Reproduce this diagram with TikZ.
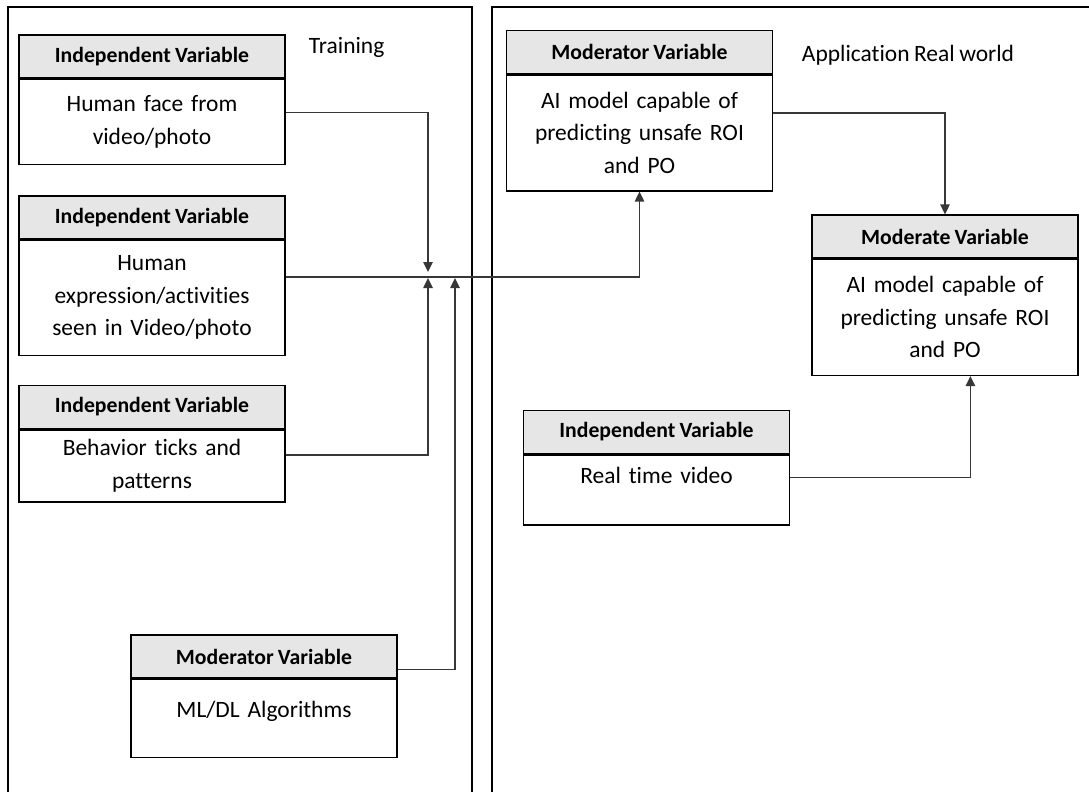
\documentclass[tikz,border=0pt]{standalone}
\usepackage{fontspec}
\setmainfont{Carlito}[Ligatures=NoCommon,WordSpace=0.85]
\usetikzlibrary{arrows.meta,positioning,calc}

\definecolor{headgray}{RGB}{231,230,230}
\definecolor{linkgray}{RGB}{55,55,55}

\tikzset{every picture/.style={line width=0.75pt}}
\tikzset{
	varhead/.style={draw, line width=1.1pt, fill=headgray, minimum width=199.5pt, minimum height=32pt, inner sep=0pt, font=\fontsize{16.3}{20}\selectfont\bfseries},
	varbody/.style={draw, line width=1.1pt, minimum width=199.5pt, text width=190pt, align=center, inner sep=4pt, font=\fontsize{17.6}{24.4}\selectfont, minimum height=#1},
	link/.style={draw=linkgray, line width=1.1pt, -{Triangle[length=7.5pt,width=7pt]}},
	panel/.style={line width=1.3pt},
	caption/.style={font=\fontsize{17.6}{20}\selectfont, anchor=west}}

\begin{document}
\begin{tikzpicture}[x=0.75pt,y=0.75pt,yscale=-1,xscale=1]
	\useasboundingbox (0,0) rectangle (1089,792);

	%Shape: Panels
	\draw[panel] (8,792) -- (8,7) -- (472,7) -- (472,792);
	\draw[panel] (1095,7) -- (492,7) -- (492,792);

	% Text Node
	\node[caption] (trainlbl) at (304,47) {Training};
	% Text Node
	\node[caption] (applbl) at (797,55) {Application Real world};

	%Training side
	\node[varhead] (ivfaceh) at (152,56.5) {Independent Variable};
	\node[varbody=63.75pt, below=0pt of ivfaceh] (ivface) {Human face from\\video/photo};

	\node[varhead] (ivexprh) at (152,217.5) {Independent Variable};
	\node[varbody=86.25pt, below=0pt of ivexprh] (ivexpr) {Human\\expression/activities\\seen in Video/photo};

	\node[varhead] (ivticksh) at (152,407) {Independent Variable};
	\node[varbody=54pt, below=0pt of ivticksh] (ivticks) {Behavior ticks and\\patterns};

	\node[varhead] (mlalgoh) at (264,656.5) {Moderator Variable};
	\node[varbody=58.5pt, text depth=14pt, below=0pt of mlalgoh] (mlalgo) {ML/DL Algorithms};

	%Application side
	\node[varhead] (aimodelh) at (639.5,52) {Moderator Variable};
	\node[varbody=87pt, below=0pt of aimodelh] (aimodel) {AI model capable of\\predicting unsafe ROI\\and PO};

	\node[varhead] (moderateh) at (945,236.5) {Moderate Variable};
	\node[varbody=87pt, below=0pt of moderateh] (moderate) {AI model capable of\\predicting unsafe ROI\\and PO};

	\node[varhead] (rtvideoh) at (656.5,432) {Independent Variable};
	\node[varbody=52.5pt, text depth=21pt, below=0pt of rtvideoh] (rtvideo) {Real time video};

	%Junctions
	\coordinate (hubA) at (428,272);
	\coordinate (hubB) at (428,278);
	\coordinate (hubC) at (455,278);

	%Connectors
	\draw[link] ($(ivface.north east)!0.39!(ivface.south east)$) -| (hubA);
	\draw[link] ($(ivticks.north east)!0.35!(ivticks.south east)$) -| (hubB);
	\draw[link] ($(mlalgoh.north east)!0.79!(mlalgoh.south east)$) -| (hubC);
	\draw[link] ($(ivexpr.north east)!0.32!(ivexpr.south east)$) -| (aimodel.south);
	\draw[link] ($(aimodel.north east)!0.33!(aimodel.south east)$) -| (moderateh.north);
	\draw[link] ($(rtvideo.north east)!0.33!(rtvideo.south east)$) -| ($(moderate.south)!0.19!(moderate.south east)$);

\end{tikzpicture}
\end{document}
